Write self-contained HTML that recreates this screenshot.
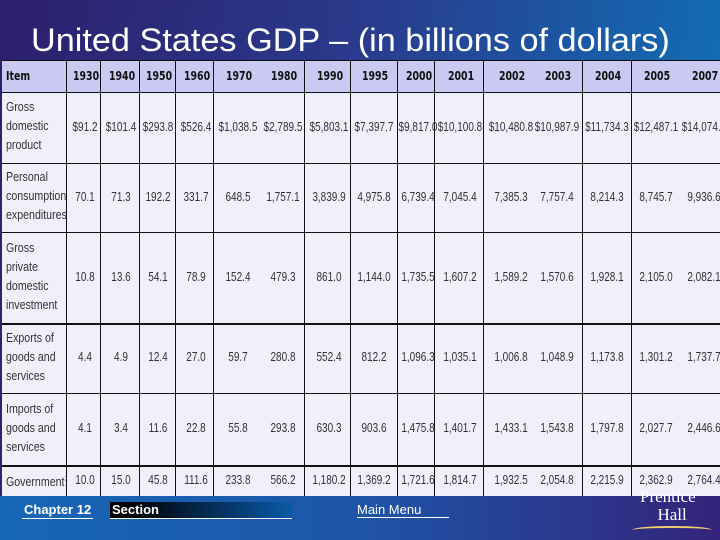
<!DOCTYPE html>
<html><head><meta charset="utf-8"><style>
body{margin:0;width:720px;height:540px;overflow:hidden;position:relative;font-family:"Liberation Sans",sans-serif;
background:linear-gradient(100deg,#2c1f6c 0%,#2a3a8c 45%,#0c78bd 100%);}
#title{position:absolute;left:31px;top:22px;color:#fff;font-size:32px;white-space:nowrap;transform:scaleX(1.07);transform-origin:left;}
#tbl{position:absolute;left:2px;top:60px;width:718px;height:436px;background:#f0f0fb;}
.ln{position:absolute;background:#111;}
.t{position:absolute;font-size:12.5px;color:#333;white-space:nowrap;transform:scaleX(0.8);transform-origin:center;}
.h{position:absolute;font-size:12.5px;font-weight:bold;color:#111;font-family:"DejaVu Sans",sans-serif;transform:scaleX(0.75);white-space:nowrap;}
.lab{position:absolute;font-size:12.5px;color:#333;line-height:19px;transform:scaleX(0.85);transform-origin:left;}
#foot{position:absolute;left:0;top:496px;width:720px;height:44px;background:linear-gradient(90deg,#1767b6,#1e55a8 50%,#34237a);}
</style></head><body>
<div id="title">United States GDP – (in billions of dollars)</div>
<div id="tbl"></div>
<div id="foot">
<div style="position:absolute;left:22px;top:6px;color:#fff;font-weight:bold;font-size:13px;border-bottom:1px solid #fff;padding:0 2px 1px">Chapter 12</div>
<div style="position:absolute;left:110px;top:6px;width:180px;height:16px;background:linear-gradient(90deg,#000 10%,#0a5aa8);color:#fff;font-weight:bold;font-size:13px;border-bottom:1px solid #fff;padding-left:2px">Section</div>
<div style="position:absolute;left:357px;top:6px;width:92px;color:#fff;font-size:13px;border-bottom:1px solid #fff">Main Menu</div>
<div style="position:absolute;left:640px;top:-8px;color:#fff;font-family:'Liberation Serif',serif;font-size:17px;line-height:18px;text-align:center">Prentice<br>&nbsp;&nbsp;Hall</div>
<div style="position:absolute;left:632px;top:30px;width:80px;height:6px;border-top:2px solid #f0d070;border-radius:50% 50% 0 0"></div>
</div>
<script>
const years=["1930","1940","1950","1960","1970","1980","1990","1995","2000","2001","2002","2003","2004","2005","2007"];
const items=["Gross<br>domestic<br>product","Personal<br>consumption<br>expenditures","Gross<br>private<br>domestic<br>investment","Exports of<br>goods and<br>services","Imports of<br>goods and<br>services","Government<sup style='font-size:7px'>1</sup>"];
const gdp=["$91.2","$101.4","$293.8","$526.4","$1,038.5","$2,789.5","$5,803.1","$7,397.7","$9,817.0","$10,100.8","$10,480.8","$10,987.9","$11,734.3","$12,487.1","$14,074.2"];
const pce=["70.1","71.3","192.2","331.7","648.5","1,757.1","3,839.9","4,975.8","6,739.4","7,045.4","7,385.3","7,757.4","8,214.3","8,745.7","9,936.6"];
const gpdi=["10.8","13.6","54.1","78.9","152.4","479.3","861.0","1,144.0","1,735.5","1,607.2","1,589.2","1,570.6","1,928.1","2,105.0","2,082.1"];
const exportsV=["4.4","4.9","12.4","27.0","59.7","280.8","552.4","812.2","1,096.3","1,035.1","1,006.8","1,048.9","1,173.8","1,301.2","1,737.7"];
const importsV=["4.1","3.4","11.6","22.8","55.8","293.8","630.3","903.6","1,475.8","1,401.7","1,433.1","1,543.8","1,797.8","2,027.7","2,446.6"];
const govt=["10.0","15.0","45.8","111.6","233.8","566.2","1,180.2","1,369.2","1,721.6","1,814.7","1,932.5","2,054.8","2,215.9","2,362.9","2,764.4"];
const rows=[gdp,pce,gpdi,exportsV,importsV,govt];
const T=document.getElementById('tbl');
const colX=[83,119,156,194,236,281,327,372,416,458,509,555,605,654,702];
const rowY=[0,32,103,172,263,333,405,436];
function div(cls,css,html){const d=document.createElement('div');d.className=cls;d.style.cssText=css;if(html!==undefined)d.innerHTML=html;T.appendChild(d);return d;}
const hb=div('', 'position:absolute;left:0;top:0;width:718px;height:32px;background:#c9c9f1');


const vl=[64,98,137,173,211,302,348,395,432,481,580,629];
vl.forEach(x=>{const l=div('ln','left:'+x+'px;top:0;width:1px;height:436px');

});
rowY.forEach(y=>{const l=div('ln','left:0;top:'+y+'px;width:718px;height:'+(y==263||y==405?2:1)+'px');

});
const ih=div('h','left:4px;top:8px;transform-origin:left','Item');


years.forEach((y,i)=>{const d=div('h','left:'+(colX[i]-16)+'px;top:8px;width:32px;text-align:center',y);

});
rows.forEach((r,ri)=>{
 const top=rowY[ri+1],bot=rowY[ri+2],n=(items[ri].match(/<br>/g)||[]).length+1;
 const lab=div('lab','left:4px;top:'+((top+bot)/2-n*9.5-1)+'px',items[ri]);
 
 
 r.forEach((v,i)=>{const d=div('t','left:'+(colX[i]-30)+'px;top:'+((top+bot)/2-8)+'px;width:60px;text-align:center',v);
 
 });
});
</script>
</body></html>
